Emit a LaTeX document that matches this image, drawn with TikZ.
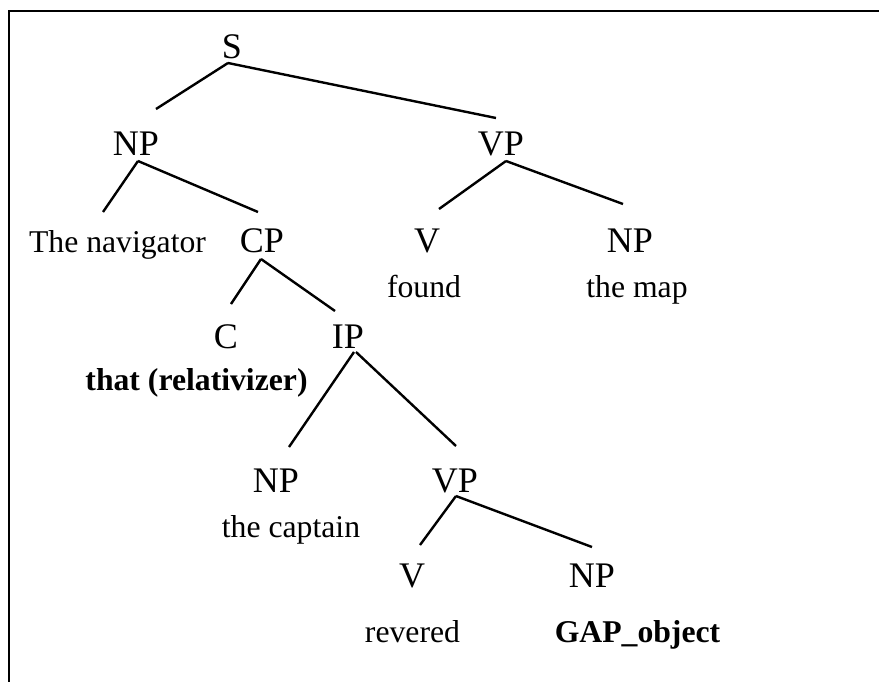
\documentclass[tikz,border=0pt]{standalone}
\usepackage{fontspec}
\setmainfont{Liberation Serif}
\begin{document}
\begin{tikzpicture}[x=1pt,y=-1pt,
  cat/.style={inner sep=0pt,anchor=base,font=\fontsize{36}{40}\selectfont},
  word/.style={inner sep=0pt,anchor=base,font=\fontsize{31.7}{36}\selectfont},
  bword/.style={word,font=\fontsize{31.7}{36}\selectfont\bfseries},
  edge/.style={line width=2.4pt},
  frame/.style={line width=2.2pt}]
\useasboundingbox (0,0) rectangle (879,681);
\clip (0,0) rectangle (879,681);
\draw[frame] (9,700) -- (9,11) -- (900,11);
% categories
\node[cat] (S) at (232,58) {S};
\node[cat] (NP1) at (136,155) {NP};
\node[cat] (VP1) at (501,155) {VP};
\node[word] (nav) at (117.5,252) {The navigator};
\node[cat] (CP) at (262,252) {CP};
\node[cat] (V1) at (427,252) {V};
\node[cat] (NP2) at (630,252) {NP};
\node[word] (found) at (424,297) {found};
\node[word] (map) at (637,297) {the map};
\node[cat] (C) at (226,348) {C};
\node[cat] (IP) at (348,348) {IP};
\node[bword] (that) at (196.5,390) {that (relativizer)};
\node[cat] (NP3) at (276,492) {NP};
\node[cat] (VP2) at (455,492) {VP};
\node[word] (capt) at (291,537) {the captain};
\node[cat] (V2) at (412,587) {V};
\node[cat] (NP4) at (592,587) {NP};
\node[word] (rev) at (412.5,642) {revered};
\node[bword] (gap) at (637.5,642) {GAP\_object};
% connectors
\draw[edge] ([shift={(-4,5)}]S.base) -- ([shift={(20,-46)}]NP1.base);
\draw[edge] ([shift={(-4,5)}]S.base) -- ([shift={(-5,-37)}]VP1.base);
\draw[edge] ([shift={(2,6)}]NP1.base) -- ([shift={(-14.5,-40)}]nav.base);
\draw[edge] ([shift={(2,6)}]NP1.base) -- ([shift={(-4,-40)}]CP.base);
\draw[edge] ([shift={(5,6)}]VP1.base) -- ([shift={(12,-43)}]V1.base);
\draw[edge] ([shift={(5,6)}]VP1.base) -- ([shift={(-7,-48)}]NP2.base);
\draw[edge] ([shift={(-1,7)}]CP.base) -- ([shift={(5,-44)}]C.base);
\draw[edge] ([shift={(-1,7)}]CP.base) -- ([shift={(-13,-37)}]IP.base);
\draw[edge] ([shift={(6,4)}]IP.base) -- ([shift={(13,-45)}]NP3.base);
\draw[edge] ([shift={(8,4)}]IP.base) -- ([shift={(1,-46)}]VP2.base);
\draw[edge] ([shift={(1,4)}]VP2.base) -- ([shift={(8,-42)}]V2.base);
\draw[edge] ([shift={(1,4)}]VP2.base) -- ([shift={(0,-40)}]NP4.base);
\end{tikzpicture}
\end{document}
